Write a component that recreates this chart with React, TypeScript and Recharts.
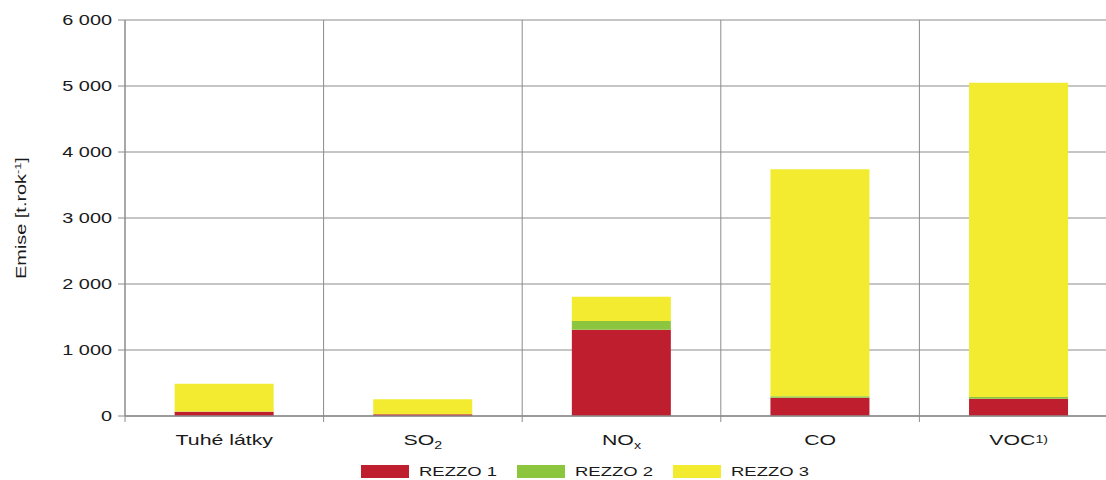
import React from "react";
import { BarChart, Bar, XAxis, YAxis, CartesianGrid, Legend } from "recharts";

const categories = ["Tuhé látky", "SO_2", "NO_x", "CO", "VOC^1)"];
const rezzo1 = [65, 25, 1305, 275, 262];
const rezzo2 = [5, 3, 135, 25, 26];
const rezzo3 = [420, 225, 365, 3440, 4762];
const seriesNames = ["REZZO 1", "REZZO 2", "REZZO 3"];
const seriesColors = ["#be1e2d", "#8cc63f", "#f3eb30"];
const yTicks = [0, 1000, 2000, 3000, 4000, 5000, 6000];
const boundaryTicks = [0, 1, 2, 3, 4, 5];
const yLabelMain = "Emise [t.rok";
const yLabelSup = "-1";
const yLabelEnd = "]";

const data = categories.map((c, i) => ({
  name: c,
  r1: rezzo1[i],
  r2: rezzo2[i],
  r3: rezzo3[i],
}));

const FONT = "'Liberation Sans', Arial, sans-serif";
const SX = 1.42;
const GRID = "#8c8c8c";

const fmt = (v: number) => {
  const s = String(v);
  return s.length > 3 ? s.slice(0, s.length - 3) + " " + s.slice(-3) : s;
};

const YTick = (props: any) => {
  const { x, y, payload } = props;
  return (
    <g transform={`translate(${x},${y})`}>
      <text transform={`scale(${SX},1)`} textAnchor="end" dy="0.36em" fontSize={14} fill="#1a1a1a" fontFamily={FONT}>
        {fmt(payload.value)}
      </text>
    </g>
  );
};

const XTick = (props: any) => {
  const { x, y, payload } = props;
  const v: string = payload.value;
  let half = 0;
  if (typeof payload.offset === "number" && payload.offset > 0) half = payload.offset;
  else if (typeof props.width === "number") half = props.width / (2 * categories.length);
  let content: React.ReactNode = v;
  if (v.includes("_")) {
    const [b, s] = v.split("_");
    content = (
      <>
        {b}
        <tspan fontSize={10} dy={4}>{s}</tspan>
      </>
    );
  } else if (v.includes("^")) {
    const [b, s] = v.split("^");
    content = (
      <>
        {b}
        <tspan fontSize={10} dy={-2}>{s}</tspan>
      </>
    );
  }
  return (
    <g transform={`translate(${x},${y})`}>
      {half > 0 && <line x1={-half} x2={-half} y1={0} y2={6} stroke={GRID} strokeWidth={1} />}
      <text transform={`scale(${SX},1)`} textAnchor="middle" y={29} fontSize={15} fill="#1a1a1a" fontFamily={FONT}>
        {content}
      </text>
    </g>
  );
};

const YLabel = (props: any) => {
  const vb = props.viewBox || { x: 0, y: 20, width: 0, height: 395 };
  const cx = 26;
  const cy = vb.y + vb.height / 2;
  return (
    <text
      transform={`translate(${cx},${cy}) rotate(-90) scale(${SX},1)`}
      textAnchor="middle"
      fontSize={14}
      fill="#1a1a1a"
      fontFamily={FONT}
    >
      {yLabelMain}
      <tspan fontSize={9} dy={-5}>{yLabelSup}</tspan>
      <tspan dy={5}>{yLabelEnd}</tspan>
    </text>
  );
};

const LegendContent = () => (
  <div style={{ display: "flex", alignItems: "center", fontFamily: FONT }}>
    {seriesNames.map((n, i) => (
      <div key={n} style={{ display: "flex", alignItems: "center", width: 156 }}>
        <div style={{ width: 48, height: 13, background: seriesColors[i] }} />
        <span
          style={{
            display: "inline-block",
            marginLeft: 10,
            fontSize: 13,
            color: "#1a1a1a",
            transform: `scaleX(${SX})`,
            transformOrigin: "left center",
            whiteSpace: "nowrap",
            lineHeight: "15px",
          }}
        >
          {n}
        </span>
      </div>
    ))}
  </div>
);

const verticalLines = (p: any) => {
  const off = p.offset || {};
  const left = typeof off.left === "number" ? off.left : 125;
  const w = typeof off.width === "number" ? off.width : 993;
  return boundaryTicks.map((i) => left + (i * w) / categories.length);
};

export default function App() {
  return (
    <div style={{ position: "fixed", left: 0, top: 0, width: 1106, height: 480, overflow: "hidden", background: "#fff" }}>
      <BarChart
        width={1130}
        height={480}
        data={data}
        margin={{ top: 20, right: 12, left: 0, bottom: 11 }}
        barCategoryGap="25%"
      >
        <CartesianGrid stroke={GRID} strokeWidth={1} verticalCoordinatesGenerator={verticalLines} />
        <XAxis
          dataKey="name"
          axisLine={{ stroke: GRID, strokeWidth: 1.5 }}
          tickLine={false}
          tickSize={0}
          tickMargin={0}
          tick={<XTick />}
          height={37}
          interval={0}
        />
        <YAxis
          width={125}
          domain={[0, 6000]}
          ticks={yTicks}
          tick={<YTick />}
          tickSize={7}
          tickMargin={6}
          tickLine={{ stroke: GRID }}
          axisLine={{ stroke: GRID }}
          label={<YLabel />}
        />
        <Legend
          content={<LegendContent />}
          verticalAlign="bottom"
          wrapperStyle={{ position: "absolute", left: 361, top: 464, width: 500, height: 16 }}
        />
        <Bar dataKey="r1" stackId="a" fill={seriesColors[0]} name={seriesNames[0]} isAnimationActive={false} />
        <Bar dataKey="r2" stackId="a" fill={seriesColors[1]} name={seriesNames[1]} isAnimationActive={false} />
        <Bar dataKey="r3" stackId="a" fill={seriesColors[2]} name={seriesNames[2]} isAnimationActive={false} />
      </BarChart>
    </div>
  );
}
